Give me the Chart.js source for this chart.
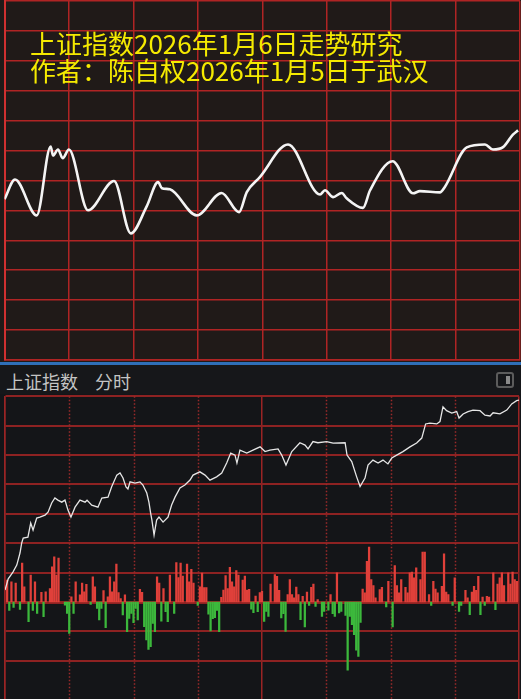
<!DOCTYPE html>
<html lang="zh-CN">
<head>
<meta charset="UTF-8">
<title>上证指数走势研究</title>
<script src="https://cdn.jsdelivr.net/npm/chart.js"></script>
<style>
  body { margin: 0; width: 521px; height: 699px; overflow: hidden; background: #141518; position: relative; }
  #topPanel { position: absolute; left: 0; top: 0; width: 521px; height: 362px; background: #201a18; }
  #blueLine { position: absolute; left: 0; top: 362px; width: 521px; height: 3px; background: #2f6fb8; }
  #header { position: absolute; left: 0; top: 365px; width: 521px; height: 29px; background: #16171a; }
  #header span { position: absolute; top: 3px; font: 18px "Noto Sans CJK SC", sans-serif; color: #c4c4c4; }
  #icon { position: absolute; left: 496px; top: 7px; width: 14px; height: 12px; border: 2px solid #5c5c5c; border-radius: 3px; }
  #icon i { position: absolute; right: 2px; top: 2px; width: 4px; height: 8px; background: #8a8a8a; }
  #bottomPanel { position: absolute; left: 0; top: 394px; width: 521px; height: 305px; background: #141518; }
  .title { position: absolute; left: 30px; font: 26px "Noto Sans CJK SC", sans-serif; color: #f5ea00; line-height: 26px; white-space: nowrap; }
</style>
</head>
<body>
  <div id="topPanel">
    <canvas id="trendChart" width="521" height="362"></canvas>
    <div class="title" style="top:30px">上证指数2026年1月6日走势研究</div>
    <div class="title" style="top:57px">作者：陈自权2026年1月5日于武汉</div>
  </div>
  <div id="blueLine"></div>
  <div id="header">
    <span style="left:6px">上证指数</span>
    <span style="left:95px">分时</span>
    <div id="icon"><i></i></div>
  </div>
  <div id="bottomPanel">
    <canvas id="minuteChart" width="521" height="305"></canvas>
  </div>

<script>
// 预测走势（上图）
const trendMin = [0, 4.9, 15, 21.5, 22.6, 24.9, 27.1, 30, 38.9, 51, 58.8, 66.2, 71.5, 73.3, 77, 89.5, 101.1, 109.2, 112.8, 118.9,
  132, 146.9, 149.2, 153, 157, 159.3, 166.9, 170.2, 180.7, 190.2, 193.4, 202.7, 205, 215.2, 223.7, 227.4, 232.1, 236.7, 239.1];
const trendVal = [53.7, 60.3, 48.3, 71.3, 68.3, 70.3, 67.4, 70.3, 50, 59.8, 42.3, 51.3, 59.4, 57.4, 57, 48.3, 55.8, 49.4, 56.1, 61.1,
  72, 55.3, 56.7, 54.4, 55.8, 54, 50.8, 56.7, 66.4, 55.7, 56.4, 56, 57.8, 71, 72, 70.3, 71.1, 75.3, 76.7];

// 分时价格（下图）
const priceMin = [0, 1.5, 3.7, 5.5, 7, 7.8, 8.5, 10.7, 12, 13.1, 14.8, 16.3, 18.7, 20.1, 21.8, 23.3, 24.7, 26.5, 28, 29.4,
  30.8, 32.7, 35, 37.4, 38.3, 40.5, 43.4, 45.2, 48.1, 49.8, 52.2, 53.7, 55.1, 56.5, 57.4, 58.4, 60.7, 63, 64.4, 66.2,
  67.2, 68, 68.6, 69.6, 70.8, 71.9, 73.8, 76.1, 77.8, 79.4, 81.7, 84, 86.4, 87.8, 91, 93.4, 95.7, 98.8, 101.2, 103.5,
  105.4, 107.4, 108.3, 109.7, 112.9, 115.8, 119.1, 121.4, 123.7, 127.5, 129.2, 131.2, 133.9, 137.7, 140.1, 141.5, 143.8, 146.1, 150.2, 153.2,
  158.8, 159.7, 161.9, 164.2, 165.8, 168.1, 169.5, 171.8, 174.2, 176.5, 178.8, 180.6, 182.9, 185.8, 189.1, 192.2, 194.6, 196.4, 198.4, 201.6,
  203.1, 204.5, 206.2, 208.6, 210.9, 212, 213.9, 216.2, 218.5, 221.8, 224.1, 226.5, 227.9, 231.1, 234.3, 236.6, 238.9, 240];
const priceVal = [3964.1, 3967.9, 3970.2, 3972.6, 3976.7, 3980.1, 3981.8, 3982.1, 3986.9, 3984.5, 3988.6, 3988.9, 3989.6, 3990.6, 3993.7, 3995.4, 3994.7, 3994.0, 3994.7, 3991.3,
  3988.9, 3992.3, 3994.7, 3994.0, 3994.7, 3993.0, 3992.3, 3995.4, 3995.7, 3999.2, 4003.2, 4003.9, 4002.2, 3999.2, 3998.5, 4000.9, 4000.5, 4000.9, 3999.8, 3997.1,
  3994.0, 3990.3, 3987.9, 3982.8, 3987.9, 3988.9, 3987.2, 3988.9, 3993.0, 3995.7, 3998.8, 3999.8, 4001.5, 4003.2, 4004.3, 4003.2, 4001.5, 4002.6, 4003.9, 4007.3,
  4010.7, 4010.0, 4007.3, 4011.7, 4010.7, 4011.7, 4012.8, 4011.2, 4011.7, 4012.1, 4010.0, 4006.6, 4011.2, 4014.2, 4013.4, 4012.1, 4014.6, 4014.2, 4014.6, 4014.1,
  4014.2, 4010.0, 4007.8, 4002.6, 3999.3, 4002.2, 4006.6, 4008.3, 4007.3, 4008.3, 4007.0, 4009.0, 4010.0, 4011.2, 4012.8, 4014.1, 4015.8, 4020.6, 4020.9, 4020.6,
  4021.4, 4026.4, 4025.1, 4024.3, 4024.8, 4022.6, 4024.0, 4024.8, 4025.3, 4025.1, 4023.6, 4023.3, 4024.4, 4024.0, 4025.3, 4027.4, 4028.5, 4028.7];

// 红绿柱
const volMin = [1, 2, 3, 4, 5, 7, 8, 9, 11, 12, 13, 14, 15, 17, 18, 19, 21, 22, 23, 24, 25, 28, 29, 30, 31, 32, 33, 35, 36, 37, 38, 40,
  41, 42, 43, 44, 45, 46, 47, 48, 49, 50, 51, 52, 53, 54, 55, 56, 57, 58, 59, 60, 61, 62, 63, 64, 65, 66, 67, 68, 69, 70,
  71, 72, 73, 74, 75, 76, 77, 79, 80, 81, 82, 83, 85, 86, 87, 88, 90, 91, 92, 93, 94, 95, 96, 97, 98, 99, 100,
  101, 102, 103, 104, 105, 106, 107, 108, 109, 111, 112, 113, 114, 115, 116, 117, 118, 119, 120,
  121, 122, 123, 124, 126, 127, 128, 129, 130, 131, 132, 133, 134, 135, 136, 137, 138, 139, 140,
  141, 142, 143, 144, 145, 146, 148, 149, 151, 152, 153, 154, 155, 156, 157, 159, 160,
  161, 162, 163, 164, 165, 166, 167, 168, 169, 170, 171, 172, 173, 175, 176, 178, 179, 181, 182, 183, 184, 185, 187, 188, 189, 190,
  191, 192, 194, 195, 196, 198, 199, 200, 201, 202, 204, 205, 206, 207, 209, 210, 212, 213, 215, 216, 217, 218, 219, 220,
  221, 222, 223, 224, 225, 226, 228, 229, 230, 231, 232, 233, 235, 236, 237, 238, 239];
const volVal = [75, -29, 69, -18, 64, -25, 132, 52, -67, 92, -29, 69, -39, 33, -50, 35, 46, 120, 154, 92, 149, -11, -39, -107, 18, -39, 69, 24, 64, 35, 60, -8,
  86, 52, -22, -61, -22, 39, -87, 18, 86, 35, 69, 129, 32, 12, -44, 24, -101, -56, -39, -70, -22, -61, 43, 33, -84, -129, -161, -152, -73, -101,
  86, 64, -65, 46, -33, -67, 92, -39, 134, 83, 132, 88, 129, 69, 111, 64, -12, 52, 98, 49, 49, -41, -98, -57, -53, -29, -101,
  16, 41, 90, 46, 118, 69, 52, 107, 92, 75, 88, 41, 43, -24, -36, 20, -33, 32, 36,
  -66, -32, -49, 61, 93, 87, 40, -54, -40, -100, 25, 76, 25, 14, 51, 25, -60, 19, -85,
  34, -12, 50, 61, -15, 8, -49, -32, -28, 25, -40, -49, 99, -37, -32, -46, -232,
  -49, -77, -111, -164, -185, -69, 44, 31, 138, 187, 76, 56, 14, 42, 50, -17, 70, -85, 124, 56, 31, 76, 50, 31, 99, 102,
  82, 116, 76, 170, 170, 25, -12, 70, 44, 31, 53, 164, 34, 25, -12, 82, -32, -12, 40, 14, -43, 34, 53, 40,
  87, -43, 17, -12, 19, 17, 99, -26, 61, 82, 99, 56, 99, 61, 102, 76, 70];

const solidMinutes = [0, 120, 240];
const dottedMinutes = [30, 60, 90, 150, 180, 210];

new Chart(document.getElementById("trendChart"), {
  type: "line",
  data: {
    datasets: [{
      data: trendMin.map((m, i) => ({ x: m, y: trendVal[i] })),
      borderColor: "#f4f4f4",
      borderWidth: 2.6,
      pointRadius: 0,
      cubicInterpolationMode: "monotone"
    }]
  },
  options: {
    responsive: false,
    animation: false,
    layout: { padding: { left: 4.5, right: 1, top: 0.75, bottom: 2 } },
    plugins: { legend: { display: false }, tooltip: { enabled: false } },
    scales: {
      x: {
        type: "linear", min: 0, max: 240,
        ticks: { display: false, stepSize: 30 },
        grid: { drawTicks: false, color: "#b02424", lineWidth: 1.5 },
        border: { color: "#b02424", width: 1.5 }
      },
      y: {
        min: 0, max: 120,
        ticks: { display: false, stepSize: 10 },
        grid: { drawTicks: false, color: "#b02424", lineWidth: 1.5 },
        border: { color: "#d03030", width: 2 }
      }
    }
  }
});

const dottedLines = {
  id: "dottedLines",
  beforeDatasetsDraw(chart) {
    const { ctx, chartArea, scales } = chart;
    ctx.save();
    ctx.strokeStyle = "#9a2a2a";
    ctx.lineWidth = 1.5;
    ctx.setLineDash([1.5, 2]);
    dottedMinutes.forEach(m => {
      const x = Math.round(scales.x.getPixelForValue(m)) + 0.5;
      ctx.beginPath();
      ctx.moveTo(x, chartArea.top);
      ctx.lineTo(x, chartArea.bottom);
      ctx.stroke();
    });
    ctx.restore();
  }
};

new Chart(document.getElementById("minuteChart"), {
  type: "bar",
  data: {
    datasets: [{
      type: "line",
      data: priceMin.map((m, i) => ({ x: m, y: priceVal[i] })),
      borderColor: "#e6e6e6",
      borderWidth: 1.3,
      pointRadius: 0,
      tension: 0,
      yAxisID: "y",
      order: 0
    }, {
      type: "bar",
      data: volMin.map((m, i) => ({ x: m, y: volVal[i] })),
      backgroundColor: c => (c.raw && c.raw.y < 0) ? "#3cb83c" : "#e0403a",
      barThickness: 1.6,
      yAxisID: "y2",
      order: 1
    }]
  },
  options: {
    responsive: false,
    animation: false,
    layout: { padding: { left: 5, right: 2, top: 2.3, bottom: 0 } },
    plugins: { legend: { display: false }, tooltip: { enabled: false } },
    scales: {
      x: {
        type: "linear", min: 0, max: 240, offset: false,
        ticks: { display: false, stepSize: 30 },
        grid: {
          drawTicks: false, offset: false, lineWidth: 1.5,
          color: c => solidMinutes.includes(c.tick.value) ? "#9a2424" : "transparent"
        },
        border: { display: false }
      },
      y: {
        min: 3927.04, max: 4030,
        ticks: { display: false, stepSize: 10 },
        afterBuildTicks: s => { s.ticks = s.ticks.filter(t => Math.abs(t.value - Math.round(t.value / 10) * 10) < 0.01); },
        grid: {
          drawTicks: false, color: "#8e2222",
          lineWidth: c => c.tick.value === 3960 ? 3 : 2
        },
        border: { color: "#9a2424", width: 1.5 }
      },
      y2: {
        min: -329.9, max: 699.7,
        display: false
      }
    }
  },
  plugins: [dottedLines]
});
</script>
</body>
</html>
